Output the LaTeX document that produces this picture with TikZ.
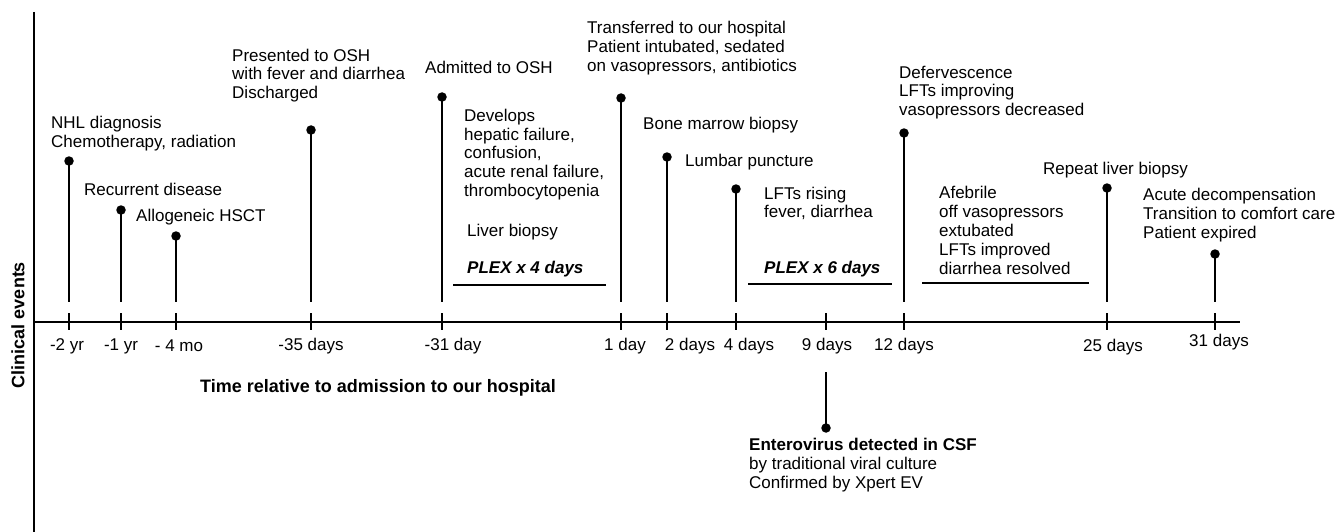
\documentclass[tikz,border=0pt]{standalone}
\usepackage{fontspec}
\setmainfont{Liberation Sans}
\begin{document}
\begin{tikzpicture}[x=1pt,y=-1pt,
  txt/.style={anchor=west,align=left,inner sep=0pt,font=\fontsize{17}{18.8}\selectfont},
  ticklbl/.style={anchor=center,inner sep=0pt,font=\fontsize{17}{18.8}\selectfont},
  evdot/.style={circle,fill=black,inner sep=0pt,minimum size=9.5pt},
  stem/.style={line width=2pt},
  axisline/.style={line width=2.2pt},
  tickline/.style={line width=2pt},
  plexbar/.style={line width=2pt},
  plexlbl/.style={anchor=west,inner sep=0pt,font=\fontsize{17}{18.8}\selectfont\bfseries\itshape}]
\useasboundingbox (0,0) rectangle (1340,532);
% axes
\coordinate (ytop) at (34,12);
\coordinate (ybot) at (34,532);
\coordinate (xleft) at (34,322);
\coordinate (xright) at (1240,322);
\draw[axisline] (ytop) -- (ybot);
\draw[axisline] (xleft) -- (xright);
\node[rotate=90,inner sep=0pt,font=\fontsize{18}{20}\selectfont\bfseries] (ylab) at (18,325) {Clinical events};
\node[anchor=west,inner sep=0pt,font=\fontsize{18}{20}\selectfont\bfseries] (xlab) at (200,388) {Time relative to admission to our hospital};
% ticks
\foreach \n/\x in {t1/69,t2/121,t3/176,t4/311,t5/442,t6/621,t7/667,t8/736,t9/826,t10/904,t11/1107,t12/1215}{
  \coordinate (\n top) at (\x,313);
  \coordinate (\n bot) at (\x,330);
  \coordinate (\n) at (\x,302);
  \draw[tickline] (\n top) -- (\n bot);
}
% tick labels
\node[ticklbl] (l1) at (67,346) {-2 yr};
\node[ticklbl] (l2) at (121,346) {-1 yr};
\node[ticklbl] (l3) at (179,346) {- 4 mo};
\node[ticklbl] (l4) at (311,346) {-35 days};
\node[ticklbl] (l5) at (453,346) {-31 day};
\node[ticklbl] (l6) at (625,346) {1 day};
\node[ticklbl] (l7) at (690,346) {2 days};
\node[ticklbl] (l8) at (749,346) {4 days};
\node[ticklbl] (l9) at (827,346) {9 days};
\node[ticklbl] (l10) at (904,346) {12 days};
\node[ticklbl] (l11) at (1113,347) {25 days};
\node[ticklbl] (l12) at (1219,342) {31 days};
% event dots and stems
\foreach \n/\x/\y in {d1/69/161,d2/121/210,d3/176/236,d4/311/130,d5/442/97,d6/621/98,d7/667/157,d8/736/189,d10/904/133,d11/1107/188,d12/1215/254}{
  \node[evdot] (\n) at (\x,\y) {};
}
\draw[stem] (d1.center) -- (t1);
\draw[stem] (d2.center) -- (t2);
\draw[stem] (d3.center) -- (t3);
\draw[stem] (d4.center) -- (t4);
\draw[stem] (d5.center) -- (t5);
\draw[stem] (d6.center) -- (t6);
\draw[stem] (d7.center) -- (t7);
\draw[stem] (d8.center) -- (t8);
\draw[stem] (d10.center) -- (t10);
\draw[stem] (d11.center) -- (t11);
\draw[stem] (d12.center) -- (t12);
% downward event at 9 days
\coordinate (t9low) at (826,372);
\node[evdot] (d9) at (826,428) {};
\draw[stem] (t9low) -- (d9.center);
% labels
\node[txt] (e1) at (51,133.5) {NHL diagnosis\\Chemotherapy, radiation};
\node[txt] (e2) at (84,189) {Recurrent disease};
\node[txt] (e3) at (136,217) {Allogeneic HSCT};
\node[txt] (e4) at (232,75.5) {Presented to OSH\\with fever and diarrhea\\Discharged};
\node[txt] (e5) at (425,67) {Admitted to OSH};
\node[txt] (e5b) at (464,154.5) {Develops\\hepatic failure,\\confusion,\\acute renal failure,\\thrombocytopenia};
\node[txt] (e5c) at (467,232) {Liver biopsy};
\node[plexlbl] (p1) at (467,269) {PLEX x 4 days};
\coordinate (p1a) at (453,285);
\coordinate (p1b) at (606,285);
\draw[plexbar] (p1a) -- (p1b);
\node[txt] (e6) at (587,48) {Transferred to our hospital\\Patient intubated, sedated\\on vasopressors, antibiotics};
\node[txt] (e7) at (643,125) {Bone marrow biopsy};
\node[txt] (e8) at (685,162) {Lumbar puncture};
\node[txt] (e8b) at (764,203.5) {LFTs rising\\fever, diarrhea};
\node[plexlbl] (p2) at (764,269) {PLEX x 6 days};
\coordinate (p2a) at (748,284);
\coordinate (p2b) at (892,284);
\draw[plexbar] (p2a) -- (p2b);
\node[txt] (e10) at (899,92.5) {Defervescence\\LFTs improving\\vasopressors decreased};
\node[txt] (e10b) at (939,230.5) {Afebrile\\off vasopressors\\extubated\\LFTs improved\\diarrhea resolved};
\coordinate (p3a) at (922,283);
\coordinate (p3b) at (1089,283);
\draw[plexbar] (p3a) -- (p3b);
\node[txt] (e11) at (1043,170) {Repeat liver biopsy};
\node[txt] (e12) at (1143,215) {Acute decompensation\\Transition to comfort care\\Patient expired};
\node[txt] (e9) at (749,465) {\textbf{Enterovirus detected in CSF}\\by traditional viral culture\\Confirmed by Xpert EV};
\end{tikzpicture}
\end{document}
